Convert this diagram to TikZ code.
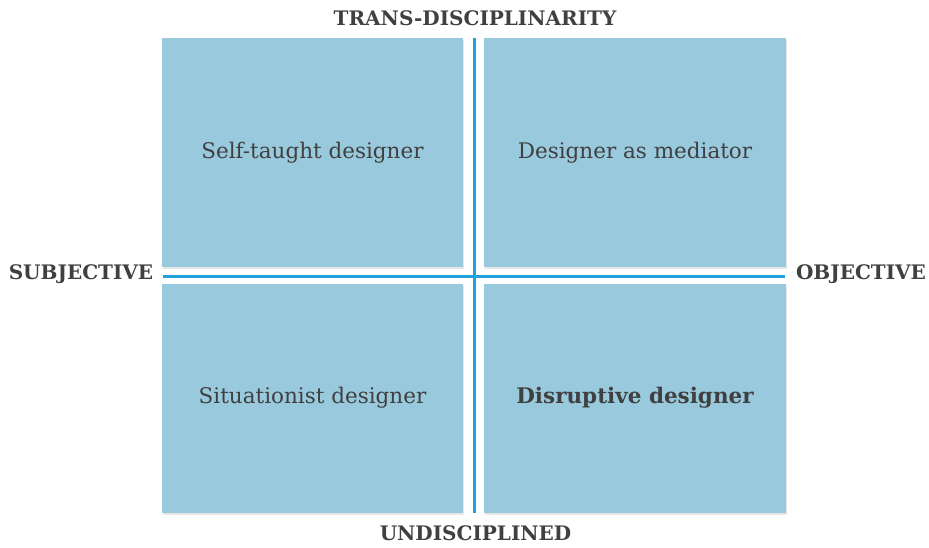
\documentclass[tikz,border=0pt]{standalone}
\usepackage{fontspec}
\setmainfont{DejaVu Serif}
\usepackage{tikz}
\usetikzlibrary{calc,positioning,shadows}
\definecolor{boxblue}{HTML}{99C9DC}
\definecolor{axisblue}{HTML}{22A2DA}
\definecolor{textgray}{HTML}{404040}

\begin{document}
\begin{tikzpicture}[x=1pt,y=-1pt,
		quad/.style={fill=boxblue,inner sep=0pt,minimum width=301pt,minimum height=229pt,
			text=textgray,font=\fontsize{21.5}{25}\selectfont,
			drop shadow={opacity=0.2,shadow xshift=1pt,shadow yshift=-2pt}},
		axislabel/.style={text=textgray,inner sep=0pt,font=\fontsize{20}{24}\selectfont\bfseries}]
		\useasboundingbox (0,0) rectangle (929,547);
		% the four quadrants
		\node(selftaught) [quad] at (312.5,152.5) {Self-taught designer};
		\node(mediator) [quad,minimum width=302pt] at (635,152.5) {Designer as mediator};
		\node(situationist) [quad] at (312.5,398) {Situationist designer};
		\node(disruptive) [quad,minimum width=302pt,font=\fontsize{21.5}{25}\selectfont\bfseries] at (635,398) {Disruptive designer};
		% axes
		\coordinate (top) at (474,38);
		\coordinate (bottom) at (474,513);
		\coordinate (left) at (163,276);
		\coordinate (right) at (785,276);
		\draw[axisblue,line width=3pt] (top) -- (bottom);
		\draw[axisblue,line width=3pt] (left) -- (right);
		% axis labels
		\node(trans) [axislabel] at (475,18) {TRANS-DISCIPLINARITY};
		\node(undisc) [axislabel] at (475.5,533) {UNDISCIPLINED};
		\node(subj) [axislabel] at (81,274) {SUBJECTIVE};
		\node(obj) [axislabel] at (861,274) {OBJECTIVE};
	\end{tikzpicture}
\end{document}
